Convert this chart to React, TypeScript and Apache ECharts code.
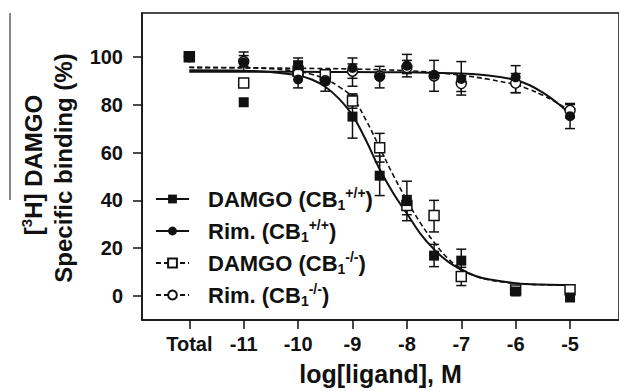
import React, { useEffect, useRef } from "react";
import * as echarts from "echarts";

// ---- axis ticks ----
const xTickValues = [-12, -11, -10, -9, -8, -7, -6, -5];
const yTickValues = [0, 20, 40, 60, 80, 100];

// ---- measured points [logM, % binding] ----
const damgoWt = [[-12, 100], [-11, 81], [-10, 96.5], [-9, 75], [-8.5, 50.3], [-8, 39.7], [-7.5, 16.9], [-7, 14.8], [-6, 1.9], [-5, -0.6]];
const rimWt = [[-12, 100], [-11, 97.6], [-10, 90.5], [-9.5, 89.8], [-9, 95.3], [-8.5, 91.6], [-8, 96.3], [-7.5, 92.5], [-7, 90.7], [-6, 91.4], [-5, 75.2]];
const damgoKo = [[-12, 100], [-11, 89], [-10, 94], [-9.5, 92.5], [-9, 81.5], [-8.5, 62], [-8, 37.9], [-7.5, 33.7], [-7, 8.2], [-6, 2.5], [-5, 2.6]];
const rimKo = [[-12, 100], [-11, 98], [-10, 93], [-9.5, 90], [-9, 94], [-8.5, 92], [-8, 95.5], [-7.5, 92], [-7, 88.8], [-6, 89], [-5, 77.6]];

// ---- error bars [logM, low, high] ----
const damgoWtErr = [[-10, 93.5, 99.5], [-9, 66, 84], [-8.5, 42, 58.5], [-8, 31.5, 48], [-7.5, 12.3, 21.6], [-7, 10, 19.6]];
const rimWtErr = [[-11, 94, 102], [-10, 87, 94], [-9.5, 85.6, 94], [-9, 87.7, 99.5], [-8.5, 87, 96], [-8, 91.6, 101], [-7.5, 85.6, 98.5], [-7, 84, 98], [-6, 85, 96.3], [-5, 70, 80]];
const damgoKoErr = [[-9, 78.5, 84.5], [-8.5, 56, 68], [-8, 34, 42], [-7.5, 26.8, 40], [-7, 4.4, 12]];
const rimKoErr = [[-11, 96, 100.5], [-9, 91, 97], [-8, 93, 98.5], [-7, 85.5, 92], [-6, 85, 93], [-5, 74.5, 80.5]];

// ---- fitted curves ----
const damgoWtFit = [[-12, 94.4], [-11, 94.2], [-10.5, 93.6], [-10, 92.2], [-9.75, 90.5], [-9.5, 87.5], [-9.25, 82.5], [-9, 75.5], [-8.75, 65], [-8.5, 53], [-8.25, 43], [-8, 34.5], [-7.75, 26], [-7.5, 19.5], [-7.25, 14.5], [-7, 11], [-6.75, 8.5], [-6.5, 7], [-6, 5.4], [-5.5, 4.8], [-5, 4.6]];
const rimWtFit = [[-12, 93.7], [-11, 93.7], [-10, 93.7], [-9, 93.6], [-8, 93.5], [-7.5, 93.3], [-7, 93], [-6.5, 92.2], [-6, 90.3], [-5.75, 88.2], [-5.5, 85], [-5.25, 81], [-5, 76]];
const damgoKoFit = [[-12, 95.6], [-11, 95.4], [-10.5, 95], [-10, 93.9], [-9.75, 92.7], [-9.5, 90.7], [-9.25, 87.5], [-9, 83], [-8.75, 73.5], [-8.5, 62], [-8.25, 50.5], [-8, 40], [-7.75, 30.5], [-7.5, 22.5], [-7.25, 15.8], [-7, 11.3], [-6.75, 8.5], [-6.5, 6.8], [-6, 5.3], [-5.5, 4.7], [-5, 4.5]];
const rimKoFit = [[-12, 95.5], [-11, 95.4], [-10, 95.2], [-9, 94.9], [-8, 94.2], [-7.5, 93.4], [-7, 92.3], [-6.5, 90.6], [-6, 88.3], [-5.75, 86.4], [-5.5, 83.9], [-5.25, 80.9], [-5, 77.5]];

const legendNames = ["dwt", "rwt", "dko", "rko"];
const legendLabels: Record<string, string> = {
  dwt: "{pad| }{m|DAMGO (CB}{sub|1}{sup|+/+}{m|)}",
  rwt: "{pad| }{m|Rim. (CB}{sub|1}{sup|+/+}{m|)}",
  dko: "{pad| }{m|DAMGO (CB}{sub|1}{sup|-/-}{m|)}",
  rko: "{pad| }{m|Rim. (CB}{sub|1}{sup|-/-}{m|)}",
};

const FONT = "'Liberation Sans', Arial, Helvetica, sans-serif";
const INK = "#111";

function errorBarSeries(data: number[][]) {
  return {
    type: "custom",
    data,
    z: 3,
    silent: true,
    renderItem: (params: any, api: any) => {
      const x = api.value(0);
      const lo = api.coord([x, api.value(1)]);
      const hi = api.coord([x, api.value(2)]);
      const w = 5;
      const style = { stroke: INK, lineWidth: 1.5 };
      return {
        type: "group",
        children: [
          { type: "line", shape: { x1: lo[0], y1: lo[1], x2: hi[0], y2: hi[1] }, style },
          { type: "line", shape: { x1: lo[0] - w, y1: lo[1], x2: lo[0] + w, y2: lo[1] }, style },
          { type: "line", shape: { x1: hi[0] - w, y1: hi[1], x2: hi[0] + w, y2: hi[1] }, style },
        ],
      };
    },
  };
}

function fitSeries(name: string, data: number[][], dashed: boolean, symbol: string) {
  return {
    type: "line",
    name,
    data,
    smooth: 0.4,
    showSymbol: false,
    symbol,
    z: 2,
    silent: true,
    itemStyle: { color: INK, opacity: 1 },
    lineStyle: { color: INK, width: dashed ? 1.6 : 2, type: dashed ? [5, 3] : "solid" },
  };
}

function pointSeries(data: number[][], symbol: string, filled: boolean, z: number) {
  return {
    type: "scatter",
    data,
    symbol,
    symbolSize: 10,
    z,
    silent: true,
    itemStyle: filled
      ? { color: INK, opacity: 1 }
      : { color: "#fff", borderColor: INK, borderWidth: 1.5, opacity: 1 },
  };
}

export default function App() {
  const ref = useRef<HTMLDivElement>(null);
  useEffect(() => {
    if (!ref.current) return;
    const chart = echarts.init(ref.current, undefined, { renderer: "svg" });
    const subStyle = { fontSize: 14, fontWeight: "bold", fontFamily: FONT, color: INK, lineHeight: 14, verticalAlign: "bottom" };
    const supStyle = { fontSize: 14, fontWeight: "bold", fontFamily: FONT, color: INK, lineHeight: 14, verticalAlign: "top" };
    chart.setOption({
      animation: false,
      backgroundColor: "#fff",
      grid: {
        left: 142,
        top: 13,
        width: 483,
        height: 309,
        show: true,
        borderColor: INK,
        borderWidth: 1.5,
      },
      xAxis: {
        type: "value",
        min: -12.87,
        max: -4.1,
        name: "log[ligand], M",
        nameLocation: "middle",
        nameGap: 41,
        nameTextStyle: { fontSize: 25, fontWeight: "bold", fontFamily: FONT, color: INK },
        axisLine: { show: true, onZero: false, lineStyle: { color: INK, width: 1.5 } },
        axisTick: { show: true, length: 9, customValues: xTickValues, lineStyle: { color: INK, width: 1.5 } },
        axisLabel: {
          customValues: xTickValues,
          margin: 14,
          fontSize: 20,
          fontWeight: "bold",
          fontFamily: FONT,
          color: INK,
          formatter: (v: number) => (v === -12 ? "Total" : String(v)),
        },
        splitLine: { show: false },
      },
      yAxis: {
        type: "value",
        min: -10,
        max: 118.3,
        axisLine: { show: true, onZero: false, lineStyle: { color: INK, width: 1.5 } },
        axisTick: { show: true, length: 9, customValues: yTickValues, lineStyle: { color: INK, width: 1.5 } },
        axisLabel: {
          customValues: yTickValues,
          margin: 19,
          fontSize: 20,
          fontWeight: "bold",
          fontFamily: FONT,
          color: INK,
        },
        splitLine: { show: false },
      },
      legend: {
        orient: "vertical",
        left: 155,
        top: 186,
        padding: 0,
        itemWidth: 33,
        itemHeight: 11,
        itemGap: 6,
        selectedMode: false,
        data: legendNames,
        formatter: (n: string) => legendLabels[n],
        textStyle: {
          color: INK,
          rich: {
            pad: { width: 14 },
            m: { fontSize: 22, fontWeight: "bold", fontFamily: FONT, color: INK, lineHeight: 26 },
            sub: subStyle,
            sup: supStyle,
          },
        },
      },
      graphic: [
        {
          type: "text",
          x: 33,
          y: 165,
          rotation: Math.PI / 2,
          style: {
            text: "{m|[}{s|3}{m|H] DAMGO}",
            align: "center",
            verticalAlign: "middle",
            rich: {
              m: { fontSize: 24, fontWeight: "bold", fontFamily: FONT, fill: INK, lineHeight: 28 },
              s: { fontSize: 15, fontWeight: "bold", fontFamily: FONT, fill: INK, lineHeight: 15, verticalAlign: "top" },
            },
          },
        },
        {
          type: "text",
          x: 63,
          y: 168,
          rotation: Math.PI / 2,
          style: {
            text: "Specific binding (%)",
            align: "center",
            verticalAlign: "middle",
            fontSize: 24,
            fontWeight: "bold",
            fontFamily: FONT,
            fill: INK,
          },
        },
        {
          type: "line",
          shape: { x1: 10, y1: 13, x2: 10, y2: 200 },
          style: { stroke: INK, lineWidth: 1 },
        },
      ],
      series: [
        fitSeries("dwt", damgoWtFit, false, "rect"),
        fitSeries("rwt", rimWtFit, false, "circle"),
        fitSeries("dko", damgoKoFit, true, "emptyRect"),
        fitSeries("rko", rimKoFit, true, "emptyCircle"),
        errorBarSeries(damgoKoErr),
        errorBarSeries(rimKoErr),
        errorBarSeries(damgoWtErr),
        errorBarSeries(rimWtErr),
        pointSeries(damgoKo, "rect", false, 4),
        pointSeries(rimKo, "circle", false, 4),
        pointSeries(damgoWt, "rect", true, 5),
        pointSeries(rimWt, "circle", true, 5),
      ],
    });
    return () => chart.dispose();
  }, []);
  return (
    <div
      ref={ref}
      style={{ position: "fixed", left: 0, top: 0, width: 619, height: 391, background: "#fff" }}
    />
  );
}
